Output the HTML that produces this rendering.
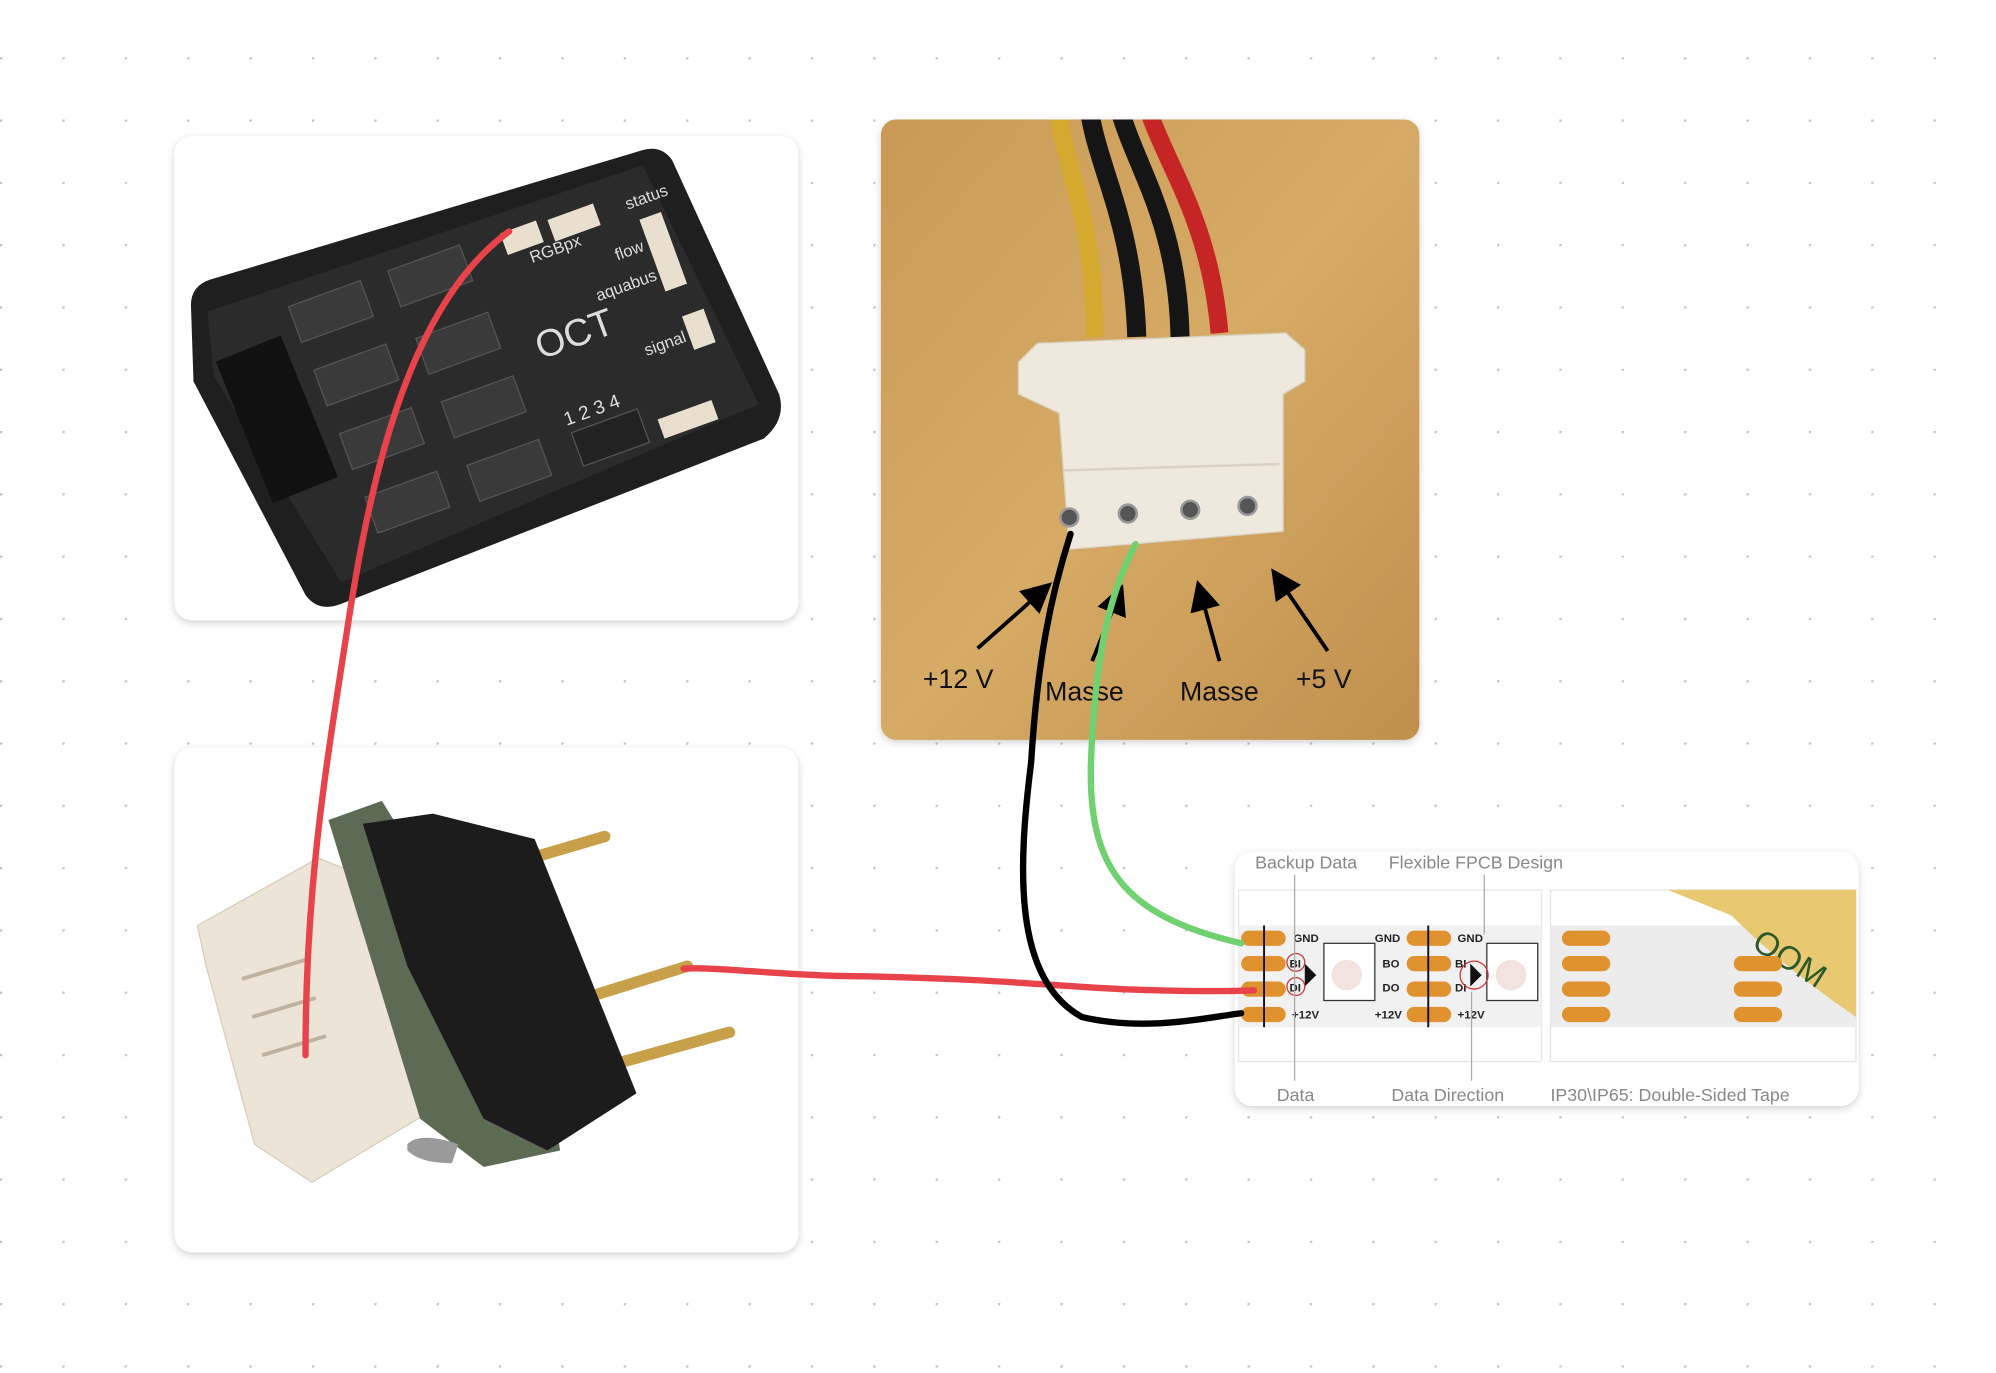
<!DOCTYPE html>
<html><head><meta charset="utf-8"><style>
html,body{margin:0;padding:0;background:#fff;width:1996px;height:1373px;overflow:hidden}
svg{display:block}
text{font-family:"Liberation Sans","DejaVu Sans",sans-serif}
</style></head><body>
<svg width="1996" height="1373" viewBox="0 0 1568 1080" preserveAspectRatio="none" xmlns="http://www.w3.org/2000/svg">
<defs>
<pattern id="dots" x="0" y="0" width="49" height="49" patternUnits="userSpaceOnUse" patternTransform="translate(49,45)">
<circle cx="0.5" cy="0.5" r="1.4" fill="#c4c4c4"/></pattern>
<filter id="sh" x="-5%" y="-5%" width="110%" height="115%"><feDropShadow dx="0" dy="2" stdDeviation="3" flood-color="#000" flood-opacity="0.18"/></filter>
<linearGradient id="wood" x1="0" y1="0" x2="1" y2="1"><stop offset="0" stop-color="#c99a55"/><stop offset="0.5" stop-color="#d6ab66"/><stop offset="1" stop-color="#c08f4c"/></linearGradient>
<clipPath id="mc"><rect x="692" y="94" width="423" height="488" rx="12"/></clipPath>
<marker id="ah" markerWidth="8" markerHeight="8" refX="6" refY="4" orient="auto"><path d="M0,0 L8,4 L0,8 Z" fill="#000"/></marker>
</defs>
<rect width="1568" height="1080" fill="#fff"/>
<rect width="1568" height="1080" fill="url(#dots)"/>

<!-- Card 1: controller -->
<rect x="137" y="107" width="490" height="381" rx="14" fill="#fff" filter="url(#sh)"/>
<path d="M150,240 Q150,225 165,220 L505,118 Q520,114 528,126 L612,310 Q618,330 600,345 L268,475 Q250,482 240,468 L152,300 Z" fill="#1f1f1f"/>
<path d="M163,245 L505,130 L596,318 L268,458 L168,296 Z" fill="#2b2b2b"/>
<rect x="190" y="270" width="55" height="120" fill="#111" transform="rotate(-22 217 330)"/>
<g fill="#3a3a3a" stroke="#555">
<rect x="230" y="230" width="60" height="30" transform="rotate(-20 260 245)"/>
<rect x="308" y="202" width="60" height="30" transform="rotate(-20 338 217)"/>
<rect x="250" y="280" width="60" height="30" transform="rotate(-20 280 295)"/>
<rect x="330" y="255" width="60" height="30" transform="rotate(-20 360 270)"/>
<rect x="270" y="330" width="60" height="30" transform="rotate(-20 300 345)"/>
<rect x="350" y="305" width="60" height="30" transform="rotate(-20 380 320)"/>
<rect x="290" y="380" width="60" height="30" transform="rotate(-20 320 395)"/>
<rect x="370" y="355" width="60" height="30" transform="rotate(-20 400 370)"/>
<rect x="452" y="330" width="55" height="28" fill="#222" transform="rotate(-20 480 344)"/>
</g>
<g fill="#e9dfcf"><rect x="432" y="166" width="38" height="18" transform="rotate(-20 451 175)"/>
<rect x="395" y="178" width="30" height="18" transform="rotate(-20 410 187)"/>
<rect x="512" y="168" width="18" height="60" transform="rotate(-20 521 198)"/>
<rect x="540" y="245" width="18" height="28" transform="rotate(-20 549 259)"/>
<rect x="518" y="322" width="45" height="16" transform="rotate(-20 540 330)"/></g>
<g fill="#ddd" font-size="13"><text x="493" y="165" transform="rotate(-20 493 165)">status</text>
<text x="418" y="207" transform="rotate(-20 418 207)">RGBpx</text>
<text x="485" y="205" transform="rotate(-20 485 205)">flow</text>
<text x="470" y="237" transform="rotate(-20 470 237)">aquabus</text>
<text x="508" y="280" transform="rotate(-20 508 280)">signal</text>
<text x="425" y="283" font-size="30" transform="rotate(-20 425 283)">OCT</text>
<text x="445" y="335" font-size="15" transform="rotate(-20 445 335)">1 2 3 4</text></g>

<!-- Card 2: connector -->
<rect x="137" y="588" width="490" height="397" rx="14" fill="#fff" filter="url(#sh)"/>
<g stroke-linecap="round">
<line x1="400" y1="680" x2="475" y2="658" stroke="#c9a04a" stroke-width="9"/>
<line x1="460" y1="785" x2="540" y2="760" stroke="#c9a04a" stroke-width="9"/>
<line x1="490" y1="835" x2="573" y2="812" stroke="#c9a04a" stroke-width="9"/>
</g>
<path d="M155,728 L250,675 L300,695 L345,870 L245,930 L200,900 L162,760 Z" fill="#ece4d6" stroke="#d8cdb8"/>
<g stroke="#bfb3a0" stroke-width="3"><line x1="190" y1="770" x2="240" y2="755"/><line x1="198" y1="800" x2="248" y2="785"/><line x1="206" y1="830" x2="256" y2="815"/></g>
<path d="M258,645 L300,630 L430,840 L440,905 L380,918 L330,880 Z" fill="#5d6b55"/>
<path d="M285,648 L340,640 L420,660 L500,860 L430,905 L380,880 L320,760 Z" fill="#1c1c1c"/>
<path d="M320,900 Q330,890 360,900 L355,915 Q330,915 320,905 Z" fill="#9a9a9a"/>

<!-- Molex photo -->
<rect x="692" y="94" width="423" height="488" rx="12" fill="url(#wood)" filter="url(#sh)"/>
<g fill="none" clip-path="url(#mc)">
<path d="M830,80 C835,130 860,170 860,265" stroke="#d4a930" stroke-width="14"/>
<path d="M855,80 C860,130 890,170 893,265" stroke="#151515" stroke-width="15"/>
<path d="M878,80 C890,130 925,170 927,265" stroke="#151515" stroke-width="15"/>
<path d="M900,80 C915,130 950,170 958,262" stroke="#c62525" stroke-width="14"/>
</g>
<path d="M800,285 L815,270 L1010,262 L1025,275 L1025,300 L1008,310 L1008,418 L840,432 L832,325 L800,310 Z" fill="#eee9dc" stroke="#d9d2c2"/>
<line x1="835" y1="370" x2="1005" y2="365" stroke="#d9d2c2" stroke-width="2"/>
<g fill="#555" stroke="#999" stroke-width="2"><circle cx="840" cy="407" r="7"/><circle cx="886" cy="404" r="7"/><circle cx="935" cy="401" r="7"/><circle cx="980" cy="398" r="7"/></g>
<g stroke="#000" stroke-width="3" marker-end="url(#ah)">
<line x1="768" y1="510" x2="822" y2="462"/><line x1="858" y1="520" x2="880" y2="465"/>
<line x1="958" y1="520" x2="942" y2="462"/><line x1="1043" y1="512" x2="1002" y2="452"/></g>
<g font-size="21" fill="#111"><text x="725" y="541">+12 V</text><text x="821" y="551">Masse</text><text x="927" y="551">Masse</text><text x="1018" y="541">+5 V</text></g>

<!-- LED strip card -->
<rect x="970" y="670" width="490" height="200" rx="14" fill="#fff" filter="url(#sh)"/>
<rect x="973" y="700" width="238" height="135" fill="#fff" stroke="#e6e6e6"/>
<rect x="1218" y="700" width="240" height="135" fill="#fff" stroke="#e6e6e6"/>
<rect x="973" y="728" width="238" height="80" fill="#f1f1f1"/>
<rect x="1218" y="728" width="240" height="80" fill="#ececec"/>
<path d="M1310,700 L1458,700 L1458,800 Q1400,760 1360,720 Z" fill="#e8c870"/>
<text x="1375" y="745" font-size="26" fill="#2c5a2a" font-family="Liberation Serif" transform="rotate(32 1375 745)">OOM</text>
<g fill="#e0922e">
<rect x="975" y="732" width="35" height="12" rx="6"/><rect x="975" y="752" width="35" height="12" rx="6"/><rect x="975" y="772" width="35" height="12" rx="6"/><rect x="975" y="792" width="35" height="12" rx="6"/>
<rect x="1105" y="732" width="35" height="12" rx="6"/><rect x="1105" y="752" width="35" height="12" rx="6"/><rect x="1105" y="772" width="35" height="12" rx="6"/><rect x="1105" y="792" width="35" height="12" rx="6"/>
<rect x="1227" y="732" width="38" height="12" rx="6"/><rect x="1227" y="752" width="38" height="12" rx="6"/><rect x="1227" y="772" width="38" height="12" rx="6"/><rect x="1227" y="792" width="38" height="12" rx="6"/>
<rect x="1362" y="752" width="38" height="12" rx="6"/><rect x="1362" y="772" width="38" height="12" rx="6"/><rect x="1362" y="792" width="38" height="12" rx="6"/></g>
<g stroke="#111" stroke-width="1.5"><line x1="993" y1="728" x2="993" y2="808"/><line x1="1122" y1="728" x2="1122" y2="808"/></g>
<rect x="1040" y="742" width="40" height="45" fill="#fff" stroke="#333"/><rect x="1168" y="742" width="40" height="45" fill="#fff" stroke="#333"/>
<circle cx="1058" cy="767" r="12" fill="#f3e3df"/><circle cx="1187" cy="767" r="12" fill="#f3e3df"/>
<path d="M1025,758 L1034,767 L1025,776 Z M1155,758 L1164,767 L1155,776 Z" fill="#111"/>
<g font-size="9" font-family="Liberation Serif" font-weight="bold" fill="#222">
<text x="1016" y="741">GND</text><text x="1013" y="761">BI</text><text x="1013" y="780">DI</text><text x="1015" y="801">+12V</text>
<text x="1080" y="741">GND</text><text x="1086" y="761">BO</text><text x="1086" y="780">DO</text><text x="1080" y="801">+12V</text>
<text x="1145" y="741">GND</text><text x="1143" y="761">BI</text><text x="1143" y="780">DI</text><text x="1145" y="801">+12V</text></g>
<g fill="none" stroke="#c33" stroke-width="1"><circle cx="1018" cy="757" r="7"/><circle cx="1018" cy="776" r="7"/><circle cx="1158" cy="767" r="11"/></g>
<g stroke="#aaa" stroke-width="1"><line x1="1017" y1="688" x2="1017" y2="850"/><line x1="1156" y1="780" x2="1156" y2="850"/><line x1="1166" y1="688" x2="1166" y2="735"/></g>
<g font-size="14" fill="#888"><text x="986" y="683">Backup Data</text><text x="1091" y="683">Flexible FPCB Design</text>
<text x="1003" y="866">Data</text><text x="1093" y="866">Data Direction</text><text x="1218" y="866">IP30\IP65: Double-Sided Tape</text></g>

<!-- Wires -->
<g fill="none" stroke-linecap="round" stroke-width="5">
<path d="M400,182 C320,240 290,380 272,500 C255,610 240,700 240,830" stroke="#e8434a"/>
<path d="M537,762 C560,760 620,768 680,768 C780,770 820,775 880,778 C930,780 960,780 985,779" stroke="#e8434a"/>
<path d="M841,420 C825,470 815,520 810,600 C800,680 795,770 850,800 C900,812 950,800 975,797" stroke="#000"/>
<path d="M892,428 C870,470 860,520 857,600 C855,680 880,720 975,742" stroke="#6fd170"/>
</g>
</svg>
</body></html>
